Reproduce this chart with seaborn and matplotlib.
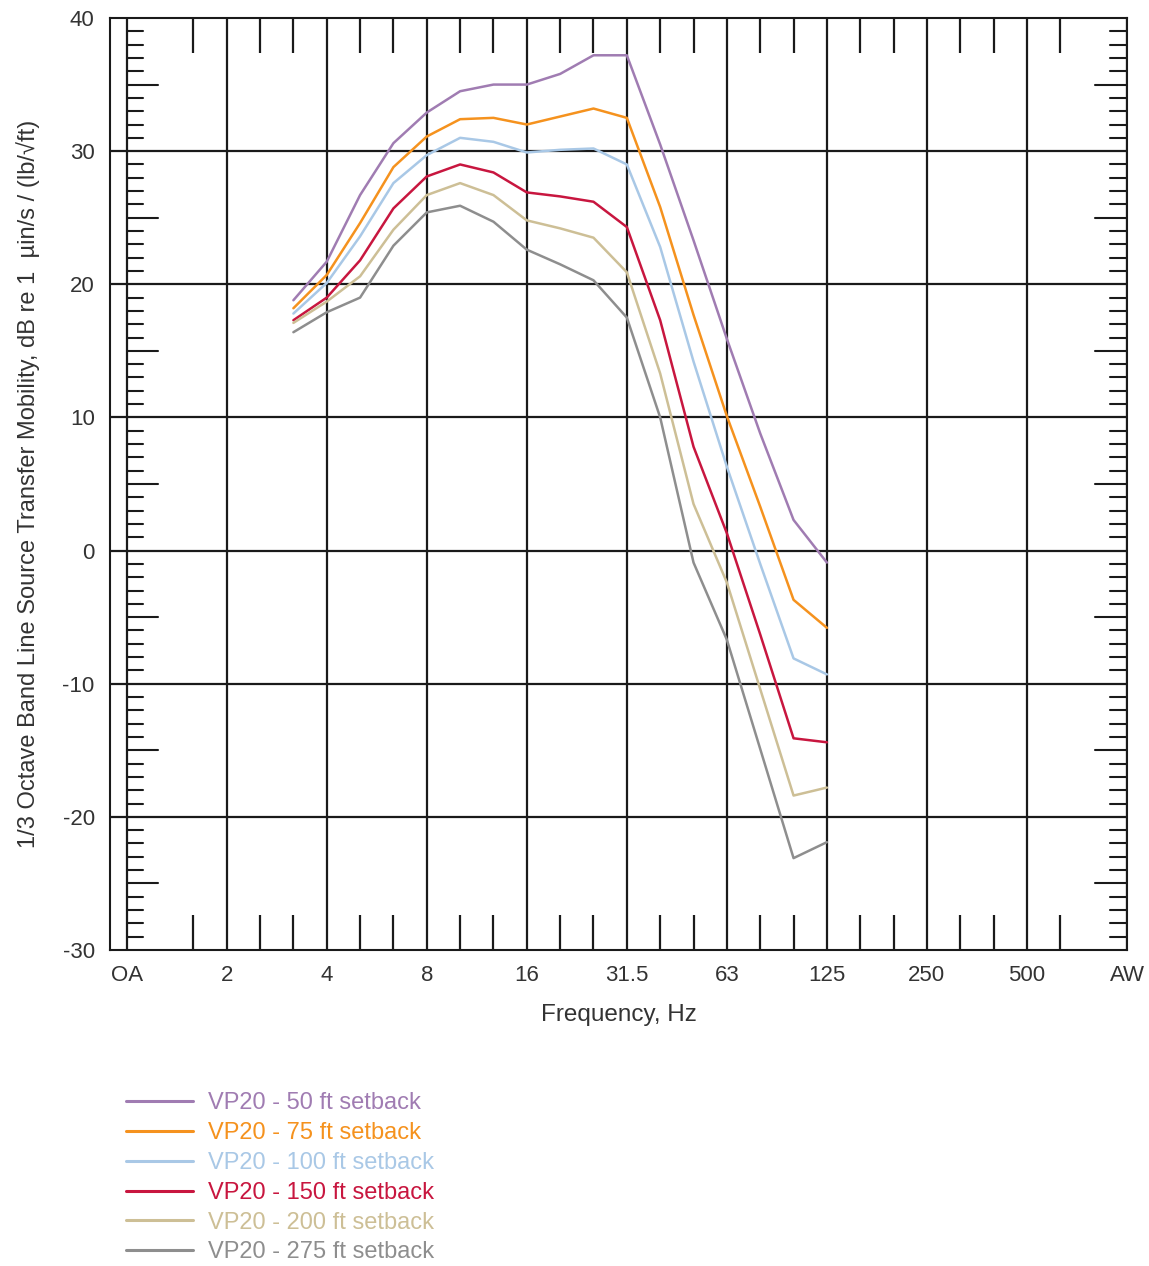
import numpy as np
import pandas as pd
import matplotlib
matplotlib.use('Agg')
import matplotlib.pyplot as plt
import seaborn as sns

# 1/3 octave band axis: OA at the 1 Hz slot, AW at the 1000 Hz slot
all_bands = ['OA', '1.25', '1.6', '2', '2.5', '3.15', '4', '5', '6.3', '8', '10',
             '12.5', '16', '20', '25', '31.5', '40', '50', '63', '80', '100', '125',
             '160', '200', '250', '315', '400', '500', '630', '800', 'AW']
octave_labels = ['OA', '2', '4', '8', '16', '31.5', '63', '125', '250', '500', 'AW']

bands = ['3.15', '4', '5', '6.3', '8', '10', '12.5', '16', '20', '25', '31.5',
         '40', '50', '63', '80', '100', '125']

setback_50 = [18.8, 21.7, 26.7, 30.6, 32.9, 34.5, 35.0, 35.0, 35.8, 37.2, 37.2,
              30.5, 23.3, 15.9, 8.8, 2.3, -0.9]
setback_75 = [18.2, 20.7, 24.6, 28.8, 31.1, 32.4, 32.5, 32.0, 32.6, 33.2, 32.5,
              25.8, 17.7, 10.1, 3.3, -3.7, -5.8]
setback_100 = [17.8, 20.1, 23.6, 27.6, 29.7, 31.0, 30.7, 29.9, 30.1, 30.2, 29.0,
               22.8, 14.2, 6.3, -1.0, -8.1, -9.3]
setback_150 = [17.3, 19.0, 21.8, 25.7, 28.1, 29.0, 28.4, 26.9, 26.6, 26.2, 24.3,
               17.3, 7.8, 1.3, -6.3, -14.1, -14.4]
setback_200 = [17.1, 18.7, 20.6, 24.1, 26.7, 27.6, 26.7, 24.8, 24.2, 23.5, 20.9,
               13.3, 3.5, -2.4, -10.4, -18.4, -17.8]
setback_275 = [16.4, 17.9, 19.0, 22.9, 25.4, 25.9, 24.7, 22.6, 21.5, 20.3, 17.5,
               10.0, -0.9, -6.7, -14.9, -23.1, -21.9]

series_names = ['VP20 - 50 ft setback', 'VP20 - 75 ft setback', 'VP20 - 100 ft setback',
                'VP20 - 150 ft setback', 'VP20 - 200 ft setback', 'VP20 - 275 ft setback']
series_values = [setback_50, setback_75, setback_100, setback_150, setback_200, setback_275]
colors = ['#a07cb2', '#f5921e', '#a9c8e6', '#c8163f', '#cdbf96', '#8e8e8e']

# long-form table for seaborn
pos = {b: i for i, b in enumerate(all_bands)}
rows = []
for name, vals in zip(series_names, series_values):
    for b, v in zip(bands, vals):
        rows.append({'series': name, 'x': pos[b], 'value': v})
df = pd.DataFrame(rows)

sns.set_style('white')
plt.rcParams['font.family'] = ['Liberation Sans', 'DejaVu Sans']
plt.rcParams['axes.unicode_minus'] = False
text_color = '#333333'

fig = plt.figure(figsize=(11.49, 12.66), dpi=100)
ax = fig.add_axes([110 / 1149, 1 - 950 / 1266, 1017 / 1149, 932 / 1266])

sns.lineplot(data=df, x='x', y='value', hue='series', hue_order=series_names,
             palette=dict(zip(series_names, colors)), linewidth=1.8,
             estimator=None, sort=False, ax=ax, legend=True)

ax.set_xlim(-0.5, 30)
ax.set_ylim(-30, 40)

# x axis: octave gridlines, inward 1/3-octave ticks top and bottom
major_x = [pos[b] for b in octave_labels]
ax.set_xticks(major_x)
ax.set_xticklabels(octave_labels)
ax.set_xticks([i for i in range(2, 29) if i % 3], minor=True)
ax.tick_params(axis='x', which='major', length=0, pad=11, labelsize=16, colors=text_color)
ax.tick_params(axis='x', which='minor', direction='in', length=25, width=1.6,
               top=True, bottom=True, color='#1a1a1a')
for xv in major_x:
    ax.axvline(xv, color='#1a1a1a', lw=1.6, zorder=1)

# y axis: gridlines every 10 dB, inner ticks every 1 dB on OA line and right edge
ax.set_yticks(np.arange(-30, 41, 10))
ax.tick_params(axis='y', which='major', length=0, pad=11, labelsize=16, colors=text_color)
for yv in np.arange(-20, 40, 10):
    ax.axhline(yv, color='#1a1a1a', lw=1.6, zorder=1)
for yv in np.arange(-30, 41):
    if yv % 10 == 0:
        continue
    tl = 0.95 if yv % 5 == 0 else 0.5
    ax.plot([0, tl], [yv, yv], color='#1a1a1a', lw=1.5, zorder=1)
    ax.plot([30, 30 - tl], [yv, yv], color='#1a1a1a', lw=1.5, zorder=1)

for s in ax.spines.values():
    s.set_color('#1a1a1a')
    s.set_linewidth(1.5)

ax.set_xlabel('Frequency, Hz', fontsize=17.5, color=text_color)
ax.xaxis.set_label_coords(0.5, -0.07)
ax.xaxis.label.set_va('center')
ax.set_ylabel('1/3 Octave Band Line Source Transfer Mobility, dB re 1  µin/s / (lb/√ft)',
              fontsize=17, color=text_color)
ax.yaxis.set_label_coords(-0.081, 0.5)
ax.yaxis.label.set_va('center')

handles, labels = ax.get_legend_handles_labels()
ax.get_legend().remove()
leg = fig.legend(handles, labels, loc='upper left', bbox_to_anchor=(117 / 1149, 1 - 1083 / 1266),
                 frameon=False, fontsize=17, handlelength=2.8, handletextpad=0.66,
                 labelspacing=0.33, labelcolor='linecolor', borderaxespad=0)
for line in leg.get_lines():
    line.set_linewidth(2.2)

fig.savefig('out.png', dpi=100)
